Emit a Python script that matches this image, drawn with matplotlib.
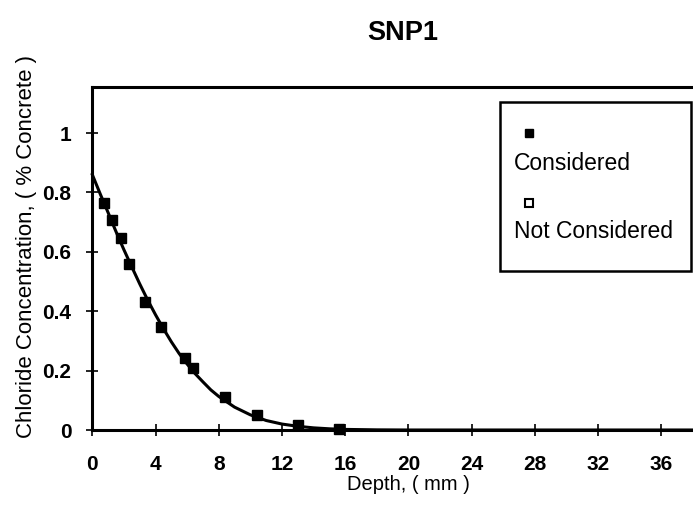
import matplotlib
matplotlib.use("Agg")
import matplotlib.pyplot as plt
from matplotlib.patches import Rectangle
from matplotlib.ticker import FuncFormatter

plt.rcParams['font.family'] = ['Liberation Sans', 'DejaVu Sans']

# Data
depth_pts = [0.74, 1.27, 1.80, 2.32, 3.34, 4.35, 5.87, 6.39, 8.40, 10.4, 13.0, 15.6]
conc_pts = [0.765, 0.707, 0.645, 0.558, 0.432, 0.348, 0.241, 0.208, 0.112, 0.050, 0.017, 0.002]

fit_depth = [0, 0.5, 1, 1.5, 2, 2.5, 3, 3.5, 4, 4.5, 5, 5.5, 6, 6.5, 7, 7.5, 8,
             9, 10, 11, 12, 13, 14, 15, 16, 18, 20, 38]
fit_conc = [0.86, 0.795, 0.732, 0.668, 0.607, 0.549, 0.492, 0.438, 0.388, 0.341,
            0.297, 0.257, 0.222, 0.190, 0.162, 0.135, 0.113, 0.077, 0.051, 0.032,
            0.020, 0.0125, 0.0072, 0.004, 0.002, 0.0005, 0.0, 0.0]

x_ticks = [0, 4, 8, 12, 16, 20, 24, 28, 32, 36]
y_ticks = [0, 0.2, 0.4, 0.6, 0.8, 1.0]

W, H = 693, 505
fig = plt.figure(figsize=(W / 100, H / 100), dpi=100)
ax = fig.add_axes([92.3 / W, (H - 430) / H, (W - 92.3) / W, 343.3 / H])

ax.plot(fit_depth, fit_conc, color='black', lw=2.2, zorder=3, clip_on=False)
ax.plot(depth_pts, conc_pts, linestyle='none', marker='s', ms=6.5,
        color='black', zorder=4, clip_on=False)

ax.set_xlim(0, 38.0)
ax.set_ylim(0, 1.156)
ax.set_xticks(x_ticks)
ax.set_yticks(y_ticks)
ax.yaxis.set_major_formatter(FuncFormatter(lambda v, p: f"{v:g}"))

for s in ['left', 'bottom', 'top']:
    ax.spines[s].set_linewidth(2.2)
ax.spines['right'].set_visible(False)

ax.tick_params(axis='both', direction='inout', length=8, width=1.2,
               labelsize=15)
ax.tick_params(axis='x', pad=14)
ax.tick_params(axis='y', pad=11)
for lab in ax.get_xticklabels() + ax.get_yticklabels():
    lab.set_fontweight('bold')

fig.text(408 / W, 1 - 484 / H, "Depth, ( mm )", ha='center', va='center',
         fontsize=14.5)
fig.text(27 / W, 1 - 246 / H, "Chloride Concentration, ( % Concrete )",
         rotation=90, ha='center', va='center', fontsize=16)

fig.text(403 / W, 1 - 33 / H, "SNP1", ha='center', va='center',
         fontsize=19.5, fontweight='bold')

# Manual legend
fig.add_artist(Rectangle((500 / W, 1 - 271 / H), 191 / W, 169 / H,
                         transform=fig.transFigure, fill=False,
                         edgecolor='black', lw=1.8))
fig.add_artist(plt.Line2D([529 / W], [1 - 133 / H], transform=fig.transFigure,
                          marker='s', ms=6, color='black', linestyle='none'))
fig.text(514 / W, 1 - 163 / H, "Considered", ha='left', va='center', fontsize=16.5)
fig.add_artist(plt.Line2D([529 / W], [1 - 203 / H], transform=fig.transFigure,
                          marker='s', ms=5.5, markerfacecolor='white',
                          markeredgecolor='black', markeredgewidth=1.5,
                          linestyle='none'))
fig.text(514 / W, 1 - 231 / H, "Not Considered", ha='left', va='center', fontsize=16.5)

fig.savefig("out.png", dpi=100)
